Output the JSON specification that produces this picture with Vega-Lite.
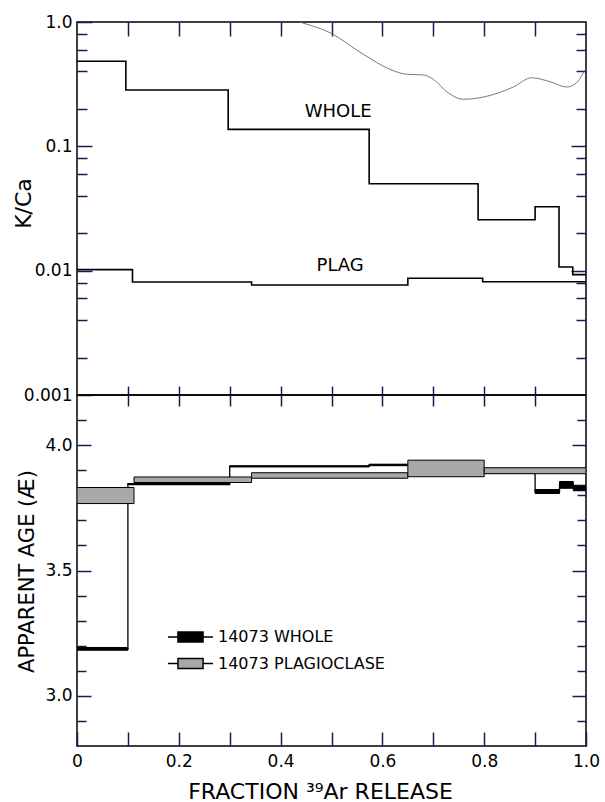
{
  "$schema": "https://vega.github.io/schema/vega-lite/v6.json",
  "padding": {"left": 11, "top": 12, "right": 19, "bottom": 0},
  "bounds": "flush",
  "spacing": 0,
  "config": {
    "font": "DejaVu Sans",
    "view": {"stroke": "black", "strokeWidth": 1.5},
    "axis": {
      "domain": false, "grid": false,
      "labelColor": "black", "titleColor": "black",
      "labelFont": "DejaVu Sans", "titleFont": "DejaVu Sans",
      "labelFontSize": 17, "titleFontSize": 21, "titleFontWeight": "normal",
      "labelOverlap": false, "labelFlush": false
    }
  },
  "vconcat": [
    {
      "width": 509, "height": 373,
      "layer": [
        {
          "data": {"values": [
            {"sample": "WHOLE", "f": 0, "kca": 0.483},
            {"sample": "WHOLE", "f": 0.096, "kca": 0.284},
            {"sample": "WHOLE", "f": 0.297, "kca": 0.137},
            {"sample": "WHOLE", "f": 0.574, "kca": 0.050},
            {"sample": "WHOLE", "f": 0.788, "kca": 0.0257},
            {"sample": "WHOLE", "f": 0.900, "kca": 0.0327},
            {"sample": "WHOLE", "f": 0.947, "kca": 0.0107},
            {"sample": "WHOLE", "f": 0.974, "kca": 0.0093},
            {"sample": "WHOLE", "f": 1.0, "kca": 0.0093},
            {"sample": "PLAG", "f": 0, "kca": 0.0102},
            {"sample": "PLAG", "f": 0.109, "kca": 0.0081},
            {"sample": "PLAG", "f": 0.343, "kca": 0.00766},
            {"sample": "PLAG", "f": 0.650, "kca": 0.0087},
            {"sample": "PLAG", "f": 0.797, "kca": 0.00814},
            {"sample": "PLAG", "f": 1.0, "kca": 0.00814}
          ]},
          "mark": {"type": "line", "interpolate": "step-after", "color": "black", "strokeWidth": 1.6, "clip": true},
          "encoding": {
            "x": {"field": "f", "type": "quantitative", "scale": {"domain": [0, 1], "nice": false, "zero": false},
              "axis": {"orient": "bottom", "values": [0.1,0.2,0.3,0.4,0.5,0.6,0.7,0.8,0.9], "labels": false, "tickSize": -9, "tickColor": "#1a1a55", "tickWidth": 1.5, "title": null}},
            "y": {"field": "kca", "type": "quantitative", "scale": {"type": "log", "domain": [0.001, 1], "nice": false},
              "axis": {"orient": "left",
                "values": [0.001,0.002,0.004,0.006,0.008,0.01,0.02,0.04,0.06,0.08,0.1,0.2,0.4,0.6,0.8,1],
                "labelExpr": "datum.value == 1 ? '1.0' : datum.value == 0.1 ? '0.1' : datum.value == 0.01 ? '0.01' : datum.value == 0.001 ? '0.001' : ''",
                "tickSize": {"condition": {"test": "datum.value == 1 || datum.value == 0.1 || datum.value == 0.01 || datum.value == 0.001", "value": -15}, "value": -10},
                "tickColor": "#1a1a55", "tickWidth": 1.5,
                "labelPadding": 20,
                "title": "K/Ca", "titleFontSize": 22, "titleX": -54, "titleY": 181, "titleAlign": "center", "titleBaseline": "middle"}},
            "detail": {"field": "sample"}
          }
        },
        {
          "data": {"values": [
            {"f": 0.366, "kca": 1.265}, {"f": 0.4316, "kca": 1.019}, {"f": 0.497, "kca": 0.82},
            {"f": 0.5625, "kca": 0.55}, {"f": 0.6149, "kca": 0.416}, {"f": 0.6477, "kca": 0.38},
            {"f": 0.6804, "kca": 0.375}, {"f": 0.70, "kca": 0.346}, {"f": 0.7263, "kca": 0.275},
            {"f": 0.7589, "kca": 0.239}, {"f": 0.7982, "kca": 0.249}, {"f": 0.8572, "kca": 0.30},
            {"f": 0.8933, "kca": 0.356}, {"f": 0.9293, "kca": 0.331}, {"f": 0.9621, "kca": 0.30},
            {"f": 0.9817, "kca": 0.325}, {"f": 1.0014, "kca": 0.429}, {"f": 1.021, "kca": 0.51},
            {"f": 1.037, "kca": 0.533}
          ]},
          "mark": {"type": "line", "interpolate": "monotone", "color": "#6a6a6a", "strokeWidth": 0.9, "clip": true},
          "encoding": {
            "x": {"field": "f", "type": "quantitative", "scale": {"domain": [0, 1], "nice": false, "zero": false},
              "axis": {"orient": "top", "values": [0.1,0.2,0.3,0.4,0.5,0.6,0.7,0.8,0.9], "labels": false, "tickSize": -14, "tickColor": "#1a1a55", "tickWidth": 1.5, "title": null}},
            "y": {"field": "kca", "type": "quantitative", "scale": {"type": "log", "domain": [0.001, 1], "nice": false},
              "axis": {"orient": "right",
                "values": [0.002,0.004,0.006,0.008,0.01,0.02,0.04,0.06,0.08,0.1,0.2,0.4,0.6,0.8],
                "labels": false,
                "tickSize": {"condition": {"test": "datum.value == 0.1 || datum.value == 0.01", "value": -15}, "value": -10},
                "tickColor": "#1a1a55", "tickWidth": 1.5,
                "title": null}}
          }
        },
        {
          "data": {"values": [
            {"f": 0.513, "kca": 0.189, "label": "WHOLE"},
            {"f": 0.517, "kca": 0.0109, "label": "PLAG"}
          ]},
          "mark": {"type": "text", "fontSize": 18, "font": "DejaVu Sans", "color": "black"},
          "encoding": {
            "x": {"field": "f", "type": "quantitative", "axis": null},
            "y": {"field": "kca", "type": "quantitative", "scale": {"type": "log"}, "axis": null},
            "text": {"field": "label"}
          }
        }
      ],
      "resolve": {"axis": {"x": "independent", "y": "independent"}}
    },
    {
      "width": 509, "height": 351,
      "layer": [
        {
          "data": {"values": [
            {"f": 0, "age": 3.187},
            {"f": 0.100, "age": 3.845},
            {"f": 0.300, "age": 3.915},
            {"f": 0.574, "age": 3.921},
            {"f": 0.788, "age": 3.89},
            {"f": 0.900, "age": 3.815},
            {"f": 0.948, "age": 3.842},
            {"f": 0.975, "age": 3.829},
            {"f": 1.0, "age": 3.829}
          ]},
          "mark": {"type": "line", "interpolate": "step-after", "color": "black", "strokeWidth": 1.3, "clip": true},
          "encoding": {
            "x": {"field": "f", "type": "quantitative", "scale": {"domain": [0, 1], "nice": false, "zero": false},
              "axis": {"orient": "bottom", "values": [0,0.1,0.2,0.3,0.4,0.5,0.6,0.7,0.8,0.9,1],
                "labelExpr": "datum.value == 0 ? '0' : (datum.value == 0.2 || datum.value == 0.4 || datum.value == 0.6 || datum.value == 0.8 || datum.value == 1) ? format(datum.value, '.1f') : ''",
                "tickSize": -14, "tickColor": "#1a1a55", "tickWidth": 1.5, "labelPadding": 21,
                "title": "FRACTION ³⁹Ar RELEASE", "titleFontSize": 22, "titleX": 243, "titleY": 52, "titleAlign": "center", "titleBaseline": "alphabetic"}},
            "y": {"field": "age", "type": "quantitative", "scale": {"domain": [2.8, 4.2], "nice": false, "zero": false},
              "axis": {"orient": "left",
                "values": [2.9,3.0,3.1,3.2,3.3,3.4,3.5,3.6,3.7,3.8,3.9,4.0,4.1],
                "labelExpr": "datum.value == 3 ? '3.0' : datum.value == 3.5 ? '3.5' : datum.value == 4 ? '4.0' : ''",
                "tickSize": {"condition": {"test": "datum.value == 3 || datum.value == 3.5 || datum.value == 4", "value": -14}, "value": -9},
                "tickColor": "#1a1a55", "tickWidth": 1.5,
                "labelPadding": 19,
                "title": "APPARENT AGE (Æ)", "titleX": -50, "titleY": 176, "titleAlign": "center", "titleBaseline": "middle"}}
          }
        },
        {
          "data": {"values": [
            {"sample": "14073 WHOLE", "x0": 0, "x1": 0.100, "lo": 3.182, "hi": 3.193},
            {"sample": "14073 WHOLE", "x0": 0.100, "x1": 0.300, "lo": 3.842, "hi": 3.847},
            {"sample": "14073 WHOLE", "x0": 0.300, "x1": 0.574, "lo": 3.913, "hi": 3.918},
            {"sample": "14073 WHOLE", "x0": 0.574, "x1": 0.788, "lo": 3.918, "hi": 3.924},
            {"sample": "14073 WHOLE", "x0": 0.788, "x1": 0.900, "lo": 3.887, "hi": 3.893},
            {"sample": "14073 WHOLE", "x0": 0.900, "x1": 0.948, "lo": 3.807, "hi": 3.823},
            {"sample": "14073 WHOLE", "x0": 0.948, "x1": 0.975, "lo": 3.828, "hi": 3.855},
            {"sample": "14073 WHOLE", "x0": 0.975, "x1": 1.0, "lo": 3.818, "hi": 3.840},
            {"sample": "14073 PLAGIOCLASE", "x0": 0, "x1": 0.112, "lo": 3.767, "hi": 3.831},
            {"sample": "14073 PLAGIOCLASE", "x0": 0.112, "x1": 0.343, "lo": 3.851, "hi": 3.873},
            {"sample": "14073 PLAGIOCLASE", "x0": 0.343, "x1": 0.650, "lo": 3.868, "hi": 3.890},
            {"sample": "14073 PLAGIOCLASE", "x0": 0.650, "x1": 0.800, "lo": 3.874, "hi": 3.940},
            {"sample": "14073 PLAGIOCLASE", "x0": 0.800, "x1": 1.0, "lo": 3.886, "hi": 3.910}
          ]},
          "mark": {"type": "rect", "stroke": "black", "strokeWidth": 1, "clip": true},
          "encoding": {
            "x": {"field": "x0", "type": "quantitative", "scale": {"domain": [0, 1], "nice": false, "zero": false},
              "axis": {"orient": "top", "values": [0.1,0.2,0.3,0.4,0.5,0.6,0.7,0.8,0.9], "labels": false, "tickSize": -11, "tickColor": "#1a1a55", "tickWidth": 1.5, "title": null}},
            "x2": {"field": "x1"},
            "y": {"field": "lo", "type": "quantitative", "scale": {"domain": [2.8, 4.2], "nice": false, "zero": false},
              "axis": {"orient": "right",
                "values": [2.9,3.0,3.1,3.2,3.3,3.4,3.5,3.6,3.7,3.8,3.9,4.0,4.1],
                "labels": false,
                "tickSize": {"condition": {"test": "datum.value == 3 || datum.value == 3.5 || datum.value == 4", "value": -14}, "value": -9},
                "tickColor": "#1a1a55", "tickWidth": 1.5,
                "title": null}},
            "y2": {"field": "hi"},
            "color": {"field": "sample", "type": "nominal",
              "scale": {"domain": ["14073 WHOLE", "14073 PLAGIOCLASE"], "range": ["black", "#a8a8a8"]},
              "legend": {"orient": "none", "legendX": 101.5, "legendY": 603, "title": null,
                "symbolType": "M-2.05,0L-1.14,0M1.14,0L2.05,0M-1.14,-0.45L1.14,-0.45L1.14,0.45L-1.14,0.45Z",
                "symbolSize": 484, "symbolStrokeColor": "black", "symbolStrokeWidth": 1.5,
                "labelFont": "DejaVu Sans", "labelFontSize": 16, "labelColor": "black", "labelLimit": 300,
                "labelOffset": 15.5, "rowPadding": 6.5, "padding": 0}}
          }
        }
      ],
      "resolve": {"axis": {"x": "independent", "y": "independent"}}
    }
  ]
}
